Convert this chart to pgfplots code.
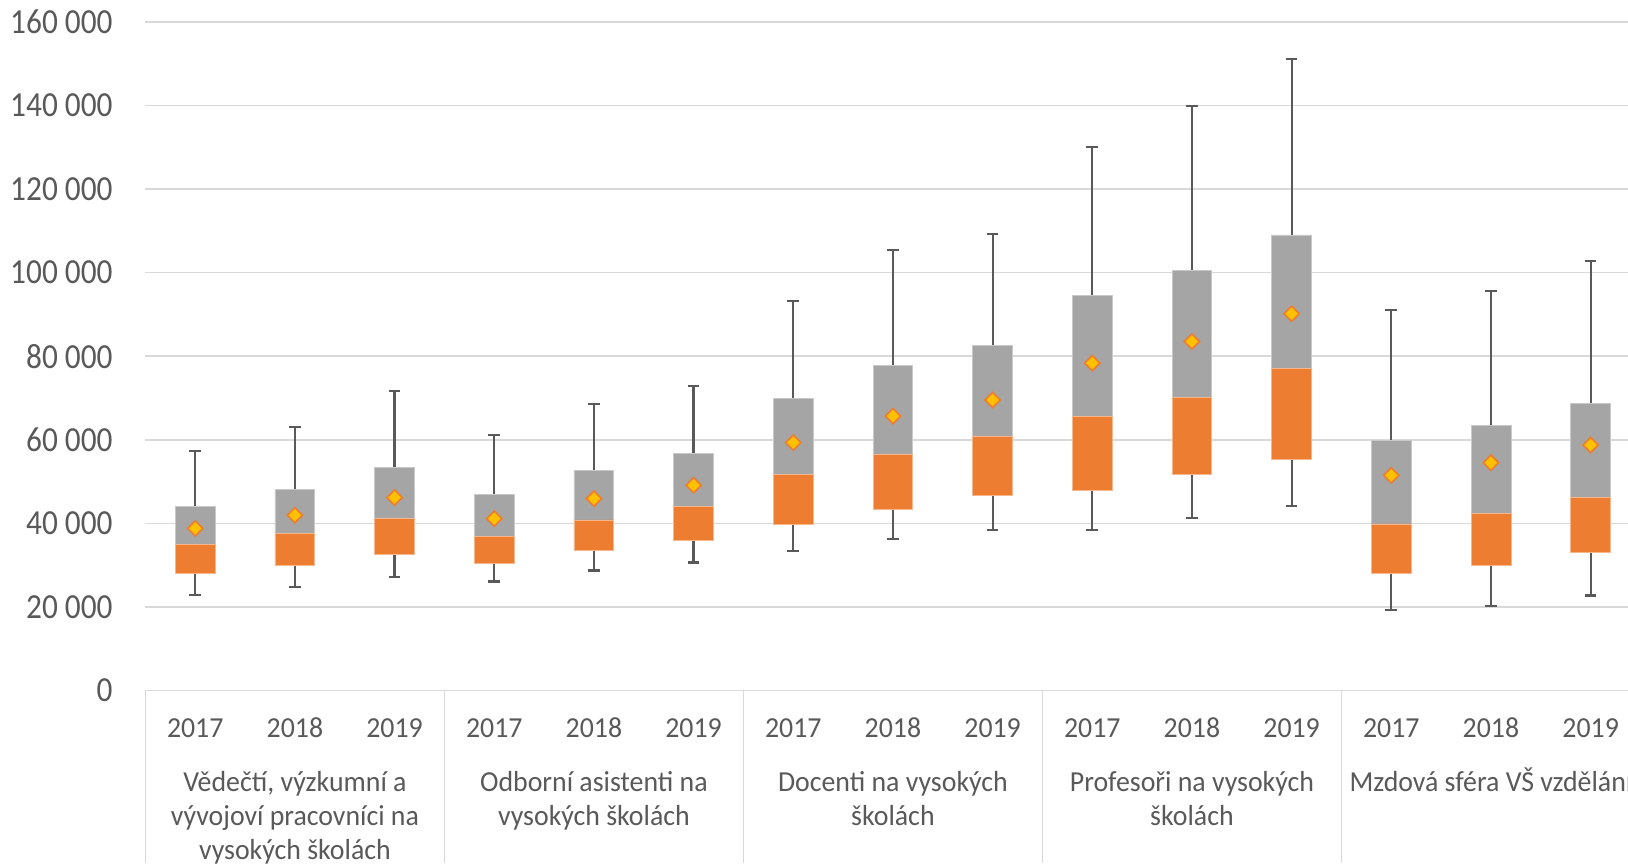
\documentclass[border=0pt]{standalone}
\usepackage{pgfplots}
\usepackage{pgfplotstable}
\pgfplotsset{compat=1.18}
\usepackage{fontspec}
\setmainfont{Carlito}[FakeStretch=0.96]
\newfontfamily\ylab{Carlito}[FakeStretch=0.89]

\definecolor{orng}{HTML}{ED7D31}
\definecolor{grayb}{HTML}{A5A5A5}
\definecolor{gold}{HTML}{FFC000}
\definecolor{whisk}{HTML}{595959}
\definecolor{gridcol}{HTML}{D9D9D9}
\definecolor{txt}{HTML}{595959}

% x = box index, lw/uw = whiskers, q1/q3 = quartiles
\pgfplotstableread{
x lw q1 med q3 uw mean
0 22800 28000 34960 44080 57360 38800
1 24800 29840 37520 48000 63120 41920
2 27200 32480 41120 53360 71680 46160
3 26080 30480 36800 46880 61040 41120
4 28720 33440 40800 52720 68480 45920
5 30640 35840 44000 56720 72880 49120
6 33380 39840 51720 69810 93160 59290
7 36170 43270 56580 77700 105350 65660
8 38490 46770 60880 82480 109260 69490
9 38490 47970 65500 94580 130120 78330
10 41270 51790 70200 100560 139840 83500
11 44220 55380 76970 109000 151150 90120
12 19200 27970 39840 59840 91070 51470
13 20160 29960 42470 63510 95540 54500
14 22710 32990 46290 68680 102710 58720
}\boxdata

\pgfplotsset{
  base/.style={at={(0,0)}, anchor=south west, scale only axis,
    width=741.3pt, height=334.35pt, scaled y ticks=false,
    xmin=-0.5, xmax=14.375, ymin=0, ymax=160000}
}

\begin{document}
\begin{tikzpicture}
% grid, labels, whiskers
\begin{axis}[base, clip=false,
  axis x line=bottom, axis y line=left,
  axis line style={-},
  x axis line style={draw=gridcol, line width=0.8pt},
  y axis line style={draw=none},
  major tick length=0pt,
  ymajorgrids, grid style={gridcol, line width=0.8pt},
  ytick={0,20000,...,160000},
  yticklabels={0,20 000,40 000,60 000,80 000,100 000,120 000,140 000,160 000},
  y tick label style={font=\ylab\fontsize{17.6}{20}\selectfont, text=txt, anchor=east, inner sep=0pt, xshift=-16.2pt},
  xtick={0,...,14},
  xticklabels={2017,2018,2019,2017,2018,2019,2017,2018,2019,2017,2018,2019,2017,2018,2019},
  x tick label style={font=\fontsize{14.5}{17.1}\selectfont, text=txt, anchor=base, inner sep=0pt, yshift=-23.3pt},
]
\addplot[only marks, mark=none, forget plot,
  error bars/.cd, y dir=both, y explicit, error mark=-,
  error bar style={draw=whisk, line width=1.1pt},
  error mark options={rotate=90, draw=whisk, mark size=2.9pt, line width=1.1pt}]
  table[x=x, y=med, y error plus expr=\thisrow{uw}-\thisrow{med}, y error minus expr=\thisrow{med}-\thisrow{lw}] {\boxdata};
\pgfplotsinvokeforeach{-0.5,2.5,5.5,8.5,11.5}{
  \draw[gridcol, line width=0.8pt] (axis cs:#1,0) -- ++(0pt,-86.25pt);
}
\begin{scope}[every node/.style={anchor=north, inner sep=0pt, align=center, text=txt, font=\fontsize{14.5}{17.1}\selectfont, yshift=-38.3pt}]
\node at (axis cs:1,0) {\strut Vědečtí, výzkumní a\\vývojoví pracovníci na\\vysokých školách};
\node at (axis cs:4,0) {\strut Odborní asistenti na\\vysokých školách};
\node at (axis cs:7,0) {\strut Docenti na vysokých\\školách};
\node at (axis cs:10,0) {\strut Profesoři na vysokých\\školách};
\node at (axis cs:13,0) {\strut Mzdová sféra VŠ vzdělání};
\end{scope}
\end{axis}
% boxes
\begin{axis}[base, hide axis, ybar stacked, bar width=0.4]
\addplot[draw=none, fill=none] table[x=x, y=q1] {\boxdata};
\addplot[fill=orng, draw=orng!55!white, line width=0.4pt] table[x=x, y expr=\thisrow{med}-\thisrow{q1}] {\boxdata};
\addplot[fill=grayb, draw=grayb!60!white, line width=0.4pt] table[x=x, y expr=\thisrow{q3}-\thisrow{med}] {\boxdata};
\end{axis}
% means
\begin{axis}[base, hide axis]
\addplot[only marks, mark=square*, mark size=2.7pt,
  mark options={rotate=45, fill=gold, draw=orng, line width=0.8pt}]
  table[x=x, y=mean] {\boxdata};
\end{axis}
\pgfresetboundingbox
\useasboundingbox (-72.7pt,-86.25pt) rectangle (741.3pt,345.25pt);
\end{tikzpicture}
\end{document}
